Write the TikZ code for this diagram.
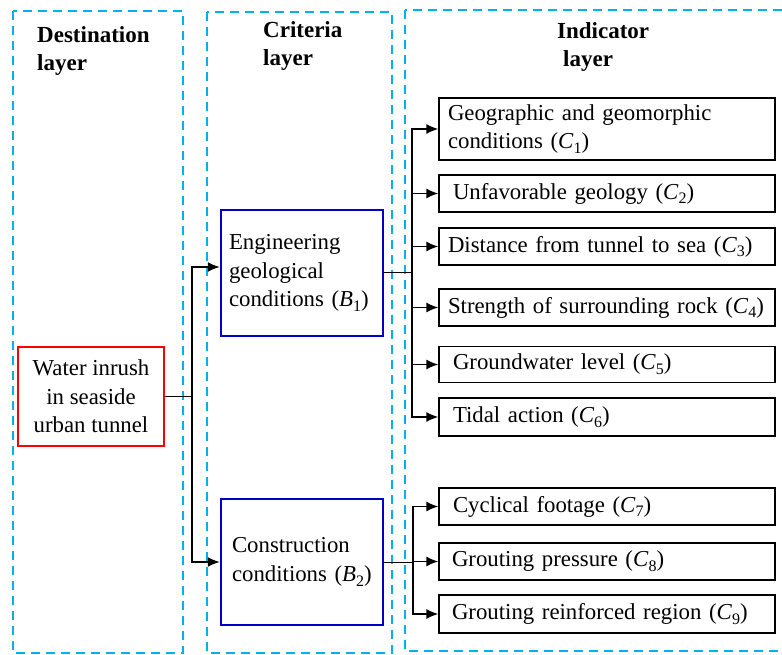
\documentclass[tikz,border=0pt]{standalone}
\usepackage{fontspec}
\setmainfont{Liberation Serif}
\usetikzlibrary{arrows.meta}
\definecolor{layercyan}{RGB}{0,176,240}
\definecolor{critblue}{RGB}{0,0,200}
\newcommand{\cvar}[2]{(\textit{#1}\raisebox{-0.45ex}{\fontsize{16}{16}\selectfont #2})}

\begin{document}
\begin{tikzpicture}[x=1pt,y=-1pt,
        font=\fontsize{22.8}{28.5}\selectfont,
        layer/.style={draw=layercyan,line width=2pt,dash pattern=on 9pt off 6pt},
        head/.style={font=\fontsize{23}{28.5}\selectfont\bfseries,align=left,anchor=north west,inner sep=0pt},
        goal/.style={draw=red,line width=2pt,minimum width=146pt,minimum height=99pt,align=center,inner sep=0pt},
        crit/.style={draw=critblue,line width=2.4pt,minimum height=126pt,text width=156pt,inner xsep=3pt,align=left},
        ind/.style={draw,line width=1.2pt,text width=330pt,inner xsep=3pt,inner ysep=0pt,align=left},
        link/.style={line width=1pt},
        arr/.style={line width=1.6pt,-{Latex[length=12pt,width=10pt]}}]
    \useasboundingbox (0,0) rectangle (782,655);
    \draw[layer] (13,11) rectangle (183,653);
    \draw[layer] (207,12) rectangle (392,653);
    \draw[layer] (405,10) rectangle (800,651);
    \node[head] (hdest) at (37,26) {Destination\\layer};
    \node[head] (hcrit) at (263,21) {Criteria\\layer};
    \node[head] (hind) at (557,22) {Indicator\\\hspace{6pt}layer};

    \node[goal] (goal) at (91,396.5) {Water inrush\\in seaside\\urban tunnel};
    \node[crit] (b1) at (302,273) {\hspace{5pt}Engineering\\\hspace{5pt}geological\\\hspace{5pt}conditions \cvar{B}{1}};
    \node[crit] (b2) at (302,562) {\hspace{8pt}Construction\\\hspace{8pt}conditions \cvar{B}{2}};

    \node[ind,minimum height=62pt] (c1) at (607,129) {\hspace{6pt}Geographic and geomorphic\\\hspace{6pt}conditions \cvar{C}{1}};
    \node[ind,minimum height=37pt] (c2) at (607,193.5) {\hspace{11pt}Unfavorable geology \cvar{C}{2}};
    \node[ind,minimum height=37pt] (c3) at (607,246.5) {\hspace{6pt}Distance from tunnel to sea \cvar{C}{3}};
    \node[ind,minimum height=37pt] (c4) at (607,307.5) {\hspace{6pt}Strength of surrounding rock \cvar{C}{4}};
    \node[ind,minimum height=36pt] (c5) at (607,364.5) {\hspace{11pt}Groundwater level \cvar{C}{5}};
    \node[ind,minimum height=38pt] (c6) at (607,417) {\hspace{11pt}Tidal action \cvar{C}{6}};
    \node[ind,minimum height=37pt] (c7) at (607,506.5) {\hspace{11pt}Cyclical footage \cvar{C}{7}};
    \node[ind,minimum height=37pt] (c8) at (607,561.5) {\hspace{10pt}Grouting pressure \cvar{C}{8}};
    \node[ind,minimum height=38pt] (c9) at (607,614) {\hspace{10pt}Grouting reinforced region \cvar{C}{9}};

    \coordinate (ja) at (192,396.5);
    \coordinate (jb) at (412,273);
    \coordinate (jc) at (413,562);
    \draw[link] (goal.east) -- (ja);
    \draw[arr] (ja) |- ([yshift=6pt]b1.west);
    \draw[arr] (ja) |- (b2.west);
    \draw[link] (b1.east) -- (jb);
    \foreach \c in {c1,c2,c3,c4,c5,c6}
        \draw[arr] (jb) |- (\c.west);
    \draw[link] (b2.east) -- (jc);
    \foreach \c in {c7,c8,c9}
        \draw[arr] (jc) |- (\c.west);
\end{tikzpicture}
\end{document}
